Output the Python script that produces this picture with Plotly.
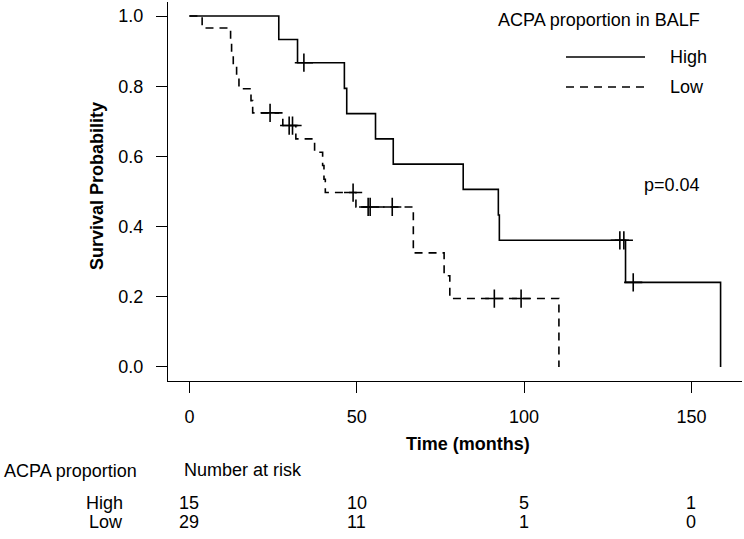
import plotly.graph_objects as go

# ---- data ----
high_time = [0, 26.7, 32.3, 46.3, 47.0, 55.6, 60.9, 81.8, 92.3, 92.6, 130.3, 158.7]
high_surv = [1.0, 0.933, 0.867, 0.794, 0.722, 0.650, 0.578, 0.506, 0.433, 0.361, 0.241, 0.0]
high_cens_time = [34.2, 128.6, 129.8, 132.6]
high_cens_surv = [0.867, 0.361, 0.361, 0.241]

low_time = [0, 3.8, 12.3, 12.6, 13.1, 14.1, 14.8, 18.4, 18.9, 27.9, 31.8, 37.4, 39.8,
            40.2, 40.6, 49.75, 66.9, 76.1, 77.8, 110.4]
low_surv = [1.0, 0.966, 0.931, 0.897, 0.862, 0.828, 0.793, 0.759, 0.724, 0.688, 0.650,
            0.612, 0.574, 0.535, 0.497, 0.456, 0.325, 0.260, 0.195, 0.0]
low_cens_time = [24.1, 29.8, 30.8, 48.9, 53.4, 54.0, 60.6, 91.1, 99.1]
low_cens_surv = [0.724, 0.688, 0.688, 0.497, 0.456, 0.456, 0.456, 0.195, 0.195]

risk_times = [0, 50, 100, 150]
risk_high = [15, 10, 5, 1]
risk_low = [29, 11, 1, 0]
group_labels = ["High", "Low"]
x_ticks = [0, 50, 100, 150]
y_ticks = [0.0, 0.2, 0.4, 0.6, 0.8, 1.0]

FONT = "Liberation Sans, Arial, Helvetica, sans-serif"
FS = 18
W, H = 744, 539
ML, MR, MT, MB = 168, 2, 2, 158
PW, PH = W - ML - MR, H - MT - MB


def px(xp):
    return (xp - ML) / PW


def py(yp):
    return (H - MB - yp) / PH


DASH = "8px,6px"

fig = go.Figure()
fig.add_trace(go.Scatter(x=high_time, y=high_surv, mode="lines", line_shape="hv",
                         line=dict(color="black", width=1.6), name="High", showlegend=False))
fig.add_trace(go.Scatter(x=low_time, y=low_surv, mode="lines", line_shape="hv",
                         line=dict(color="black", width=1.6, dash=DASH), name="Low",
                         showlegend=False))
for ct, cs in [(high_cens_time, high_cens_surv), (low_cens_time, low_cens_surv)]:
    fig.add_trace(go.Scatter(x=ct, y=cs, mode="markers",
                             marker=dict(symbol="cross-thin", size=13,
                                         line=dict(color="black", width=1.6)),
                             showlegend=False, hoverinfo="skip"))

ann = []
# legend
ann.append(dict(text="ACPA proportion in BALF", x=px(496), y=py(20), xanchor="left"))
ann.append(dict(text="High", x=px(668), y=py(57), xanchor="left"))
ann.append(dict(text="Low", x=px(668), y=py(87), xanchor="left"))
ann.append(dict(text="p=0.04", x=px(642), y=py(185), xanchor="left"))
ann.append(dict(text="<b>Survival Probability</b>", x=px(97), y=py(186), textangle=-90,
                xanchor="center"))
ann.append(dict(text="<b>Time (months)</b>", x=px(468), y=py(444), xanchor="center"))
ann.append(dict(text="ACPA proportion", x=px(2), y=py(471), xanchor="left"))
ann.append(dict(text="Number at risk", x=px(182), y=py(470), xanchor="left"))
ann.append(dict(text=group_labels[0], x=px(125), y=py(503), xanchor="right"))
ann.append(dict(text=group_labels[1], x=px(125), y=py(522), xanchor="right"))
for a in ann:
    a.update(xref="paper", yref="paper", yanchor="middle", showarrow=False,
             font=dict(family=FONT, size=FS, color="black"))
for t, nh, nl in zip(risk_times, risk_high, risk_low):
    for n, yy in [(nh, 503), (nl, 522)]:
        ann.append(dict(text=str(n), x=t, xref="x", y=py(yy), yref="paper",
                        xanchor="center", yanchor="middle", showarrow=False,
                        font=dict(family=FONT, size=FS, color="black")))

shapes = [
    dict(type="line", xref="paper", yref="paper", x0=px(566), x1=px(645), y0=py(57), y1=py(57),
         line=dict(color="black", width=1.6)),
    dict(type="line", xref="paper", yref="paper", x0=px(566), x1=px(645), y0=py(87), y1=py(87),
         line=dict(color="black", width=1.6, dash=DASH)),
]

fig.update_layout(
    width=W, height=H, autosize=False,
    margin=dict(l=ML, r=MR, t=MT, b=MB, pad=0),
    paper_bgcolor="white", plot_bgcolor="white",
    font=dict(family=FONT, size=FS, color="black"),
    annotations=ann, shapes=shapes, showlegend=False,
    xaxis=dict(range=[-6.4, 165.1], tickvals=x_ticks, ticktext=[str(v) for v in x_ticks],
               showline=True, linecolor="black", linewidth=1.4, mirror=False,
               ticks="outside", ticklen=11, tickwidth=1.4, tickcolor="black",
               showgrid=False, zeroline=False, ticklabelstandoff=8,
               tickfont=dict(family=FONT, size=FS, color="black")),
    yaxis=dict(range=[-0.04, 1.04], tickvals=y_ticks, ticktext=[f"{v:.1f}" for v in y_ticks],
               showline=True, linecolor="black", linewidth=1.4, mirror=False,
               ticks="outside", ticklen=11, tickwidth=1.4, tickcolor="black",
               showgrid=False, zeroline=False, ticklabelstandoff=9,
               tickfont=dict(family=FONT, size=FS, color="black")),
)

fig.write_html("out.html")
